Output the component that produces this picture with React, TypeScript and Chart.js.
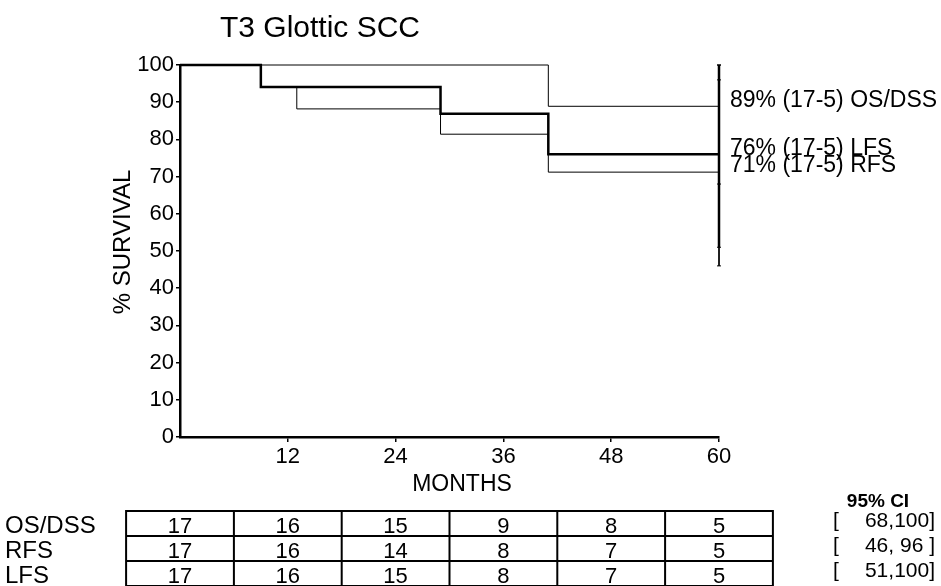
import React, { useEffect, useRef } from "react";
import { Chart, registerables } from "chart.js";

Chart.register(...registerables);

const chartTitle = "T3 Glottic SCC";
const xTitle = "MONTHS";
const yTitle = "% SURVIVAL";

const seriesNames = ["OS/DSS", "RFS", "LFS"];

// Kaplan-Meier step points (months, % survival)
const osTimes = [0, 41, 60];
const osValues = [100, 88.9, 88.9];
const rfsTimes = [0, 9, 13, 29, 41, 60];
const rfsValues = [100, 94.1, 88.2, 81.4, 71.2, 71.2];
const lfsTimes = [0, 9, 29, 41, 60];
const lfsValues = [100, 94.1, 86.9, 76.0, 76.0];

// numbers at risk
const atRiskTimes = [0, 12, 24, 36, 48, 60];
const osAtRisk = [17, 16, 15, 9, 8, 5];
const rfsAtRisk = [17, 16, 14, 8, 7, 5];
const lfsAtRisk = [17, 16, 15, 8, 7, 5];

// 95% confidence intervals at 60 months
const ciLow = [68, 46, 51];
const ciHigh = [100, 96, 100];

const xTicks = [12, 24, 36, 48, 60];

const FONT = '"Liberation Sans", Arial, sans-serif';

const pts = (t: number[], v: number[]) => t.map((x, i) => ({ x, y: v[i] }));

const textPlugin = {
  id: "textPlugin",
  afterDraw(chart: any) {
    const { ctx } = chart;
    const x = chart.scales.x;
    const y = chart.scales.y;
    ctx.save();
    ctx.fillStyle = "#000";
    ctx.strokeStyle = "#000";

    // title
    ctx.font = `30px ${FONT}`;
    ctx.textAlign = "left";
    ctx.textBaseline = "alphabetic";
    ctx.fillText(chartTitle, 220, 37);

    // x title
    ctx.font = `23px ${FONT}`;
    ctx.textAlign = "center";
    ctx.fillText(xTitle, 462, 491);

    // y title
    ctx.save();
    ctx.translate(123, 242);
    ctx.rotate(-Math.PI / 2);
    ctx.font = `24px ${FONT}`;
    ctx.textAlign = "center";
    ctx.textBaseline = "middle";
    ctx.fillText(yTitle, 0, 0);
    ctx.restore();

    // end labels
    const finals = [osValues[osValues.length - 1], lfsValues[lfsValues.length - 1], rfsValues[rfsValues.length - 1]];
    const names = [seriesNames[0], seriesNames[2], seriesNames[1]];
    const risks = [osAtRisk, lfsAtRisk, rfsAtRisk];
    ctx.font = `23px ${FONT}`;
    ctx.textAlign = "left";
    ctx.textBaseline = "middle";
    const lx = x.getPixelForValue(60) + 11;
    finals.forEach((v, i) => {
      const r = risks[i];
      ctx.fillText(`${Math.round(v)}% (${r[0]}-${r[r.length - 1]}) ${names[i]}`, lx, y.getPixelForValue(v) - 6);
    });

    // at-risk table
    const rows = [osAtRisk, rfsAtRisk, lfsAtRisk];
    const top = 511;
    const rowH = 25;
    const left = x.getPixelForValue(atRiskTimes[0] - 6);
    const right = x.getPixelForValue(atRiskTimes[atRiskTimes.length - 1] + 6);
    ctx.lineWidth = 2;
    ctx.beginPath();
    for (let r = 0; r <= rows.length; r++) {
      const yy = top + r * rowH;
      ctx.moveTo(left - 1, yy);
      ctx.lineTo(right + 1, yy);
    }
    for (let c = 0; c <= atRiskTimes.length; c++) {
      const xx = x.getPixelForValue(atRiskTimes[0] - 6 + c * 12);
      ctx.moveTo(xx, top);
      ctx.lineTo(xx, top + rows.length * rowH);
    }
    ctx.stroke();

    ctx.textBaseline = "alphabetic";
    ctx.font = `22px ${FONT}`;
    ctx.textAlign = "center";
    rows.forEach((row, r) => {
      row.forEach((n, c) => {
        ctx.fillText(String(n), x.getPixelForValue(atRiskTimes[c]), top + (r + 1) * rowH - 3);
      });
    });
    ctx.font = `24px ${FONT}`;
    ctx.textAlign = "left";
    seriesNames.forEach((nm, r) => {
      ctx.fillText(nm, 5, top + (r + 1) * rowH - 3);
    });

    // CI column
    ctx.font = `bold 19px ${FONT}`;
    ctx.textAlign = "center";
    ctx.fillText("95% CI", 878, 507);
    ctx.font = `21px ${FONT}`;
    ciLow.forEach((lo, i) => {
      const by = 527 + i * 25;
      ctx.textAlign = "left";
      ctx.fillText("[", 833, by);
      ctx.textAlign = "right";
      const hi = ciHigh[i];
      const inner = hi >= 100 ? `${lo},${hi}]` : `${lo}, ${hi} ]`;
      ctx.fillText(inner, 935, by);
    });

    ctx.restore();
  },
};

export default function App() {
  const ref = useRef<HTMLCanvasElement | null>(null);

  useEffect(() => {
    if (!ref.current) return;
    const stepDs = (label: string, data: any[], width: number) => ({
      label,
      data,
      stepped: "before" as const,
      borderColor: "#000",
      borderWidth: width,
      pointRadius: 0,
      fill: false,
      clip: false as any,
    });
    const ciDs = (label: string, i: number, width: number) => ({
      label,
      data: [
        { x: 60, y: ciHigh[i] },
        { x: 60, y: ciLow[i] },
      ],
      borderColor: "#000",
      borderWidth: width,
      pointRadius: 2,
      pointStyle: "line" as const,
      pointBorderWidth: 1,
      pointBorderColor: "#000",
      fill: false,
      clip: false as any,
    });
    const chart = new Chart(ref.current, {
      type: "line",
      data: {
        datasets: [
          stepDs("LFS", pts(lfsTimes, lfsValues), 2.5),
          ciDs("LFS CI", 2, 2.5),
          stepDs("RFS", pts(rfsTimes, rfsValues), 1),
          stepDs("OS/DSS", pts(osTimes, osValues), 1),
          ciDs("RFS CI", 1, 1),
          ciDs("OS CI", 0, 1),
        ],
      },
      options: {
        animation: false,
        responsive: false,
        devicePixelRatio: 1,
        layout: { padding: { left: 0, right: 222, top: 65, bottom: 109 } },
        plugins: {
          legend: { display: false },
          tooltip: { enabled: false },
          title: { display: false },
        },
        scales: {
          x: {
            type: "linear",
            min: 0,
            max: 60,
            afterFit: (s: any) => {
              s.height = 40;
            },
            afterBuildTicks: (s: any) => {
              s.ticks = [0, ...xTicks].map((v) => ({ value: v }));
            },
            ticks: {
              color: "#000",
              font: { family: FONT, size: 22 },
              padding: 2,
              maxRotation: 0,
              callback: (v: any) => (v === 0 ? "" : String(v)),
            },
            grid: {
              drawOnChartArea: false,
              tickLength: 5,
              lineWidth: 1.5,
              color: (c: any) => (c.tick && c.tick.value === 0 ? "rgba(0,0,0,0)" : "#000"),
            },
            border: { display: true, color: "#000", width: 2.5 },
          },
          y: {
            type: "linear",
            min: 0,
            max: 100,
            afterFit: (s: any) => {
              s.width = 180;
            },
            ticks: {
              stepSize: 10,
              color: "#000",
              font: { family: FONT, size: 22 },
              padding: 2,
            },
            grid: {
              drawOnChartArea: false,
              tickLength: 4,
              lineWidth: 1.5,
              color: "#000",
            },
            border: { display: true, color: "#000", width: 2.5 },
          },
        },
      },
      plugins: [textPlugin],
    });
    return () => chart.destroy();
  }, []);

  return (
    <div style={{ position: "absolute", left: 0, top: 0, width: 941, height: 586, background: "#fff" }}>
      <canvas ref={ref} width={941} height={586} style={{ width: 941, height: 586, display: "block" }} />
    </div>
  );
}
